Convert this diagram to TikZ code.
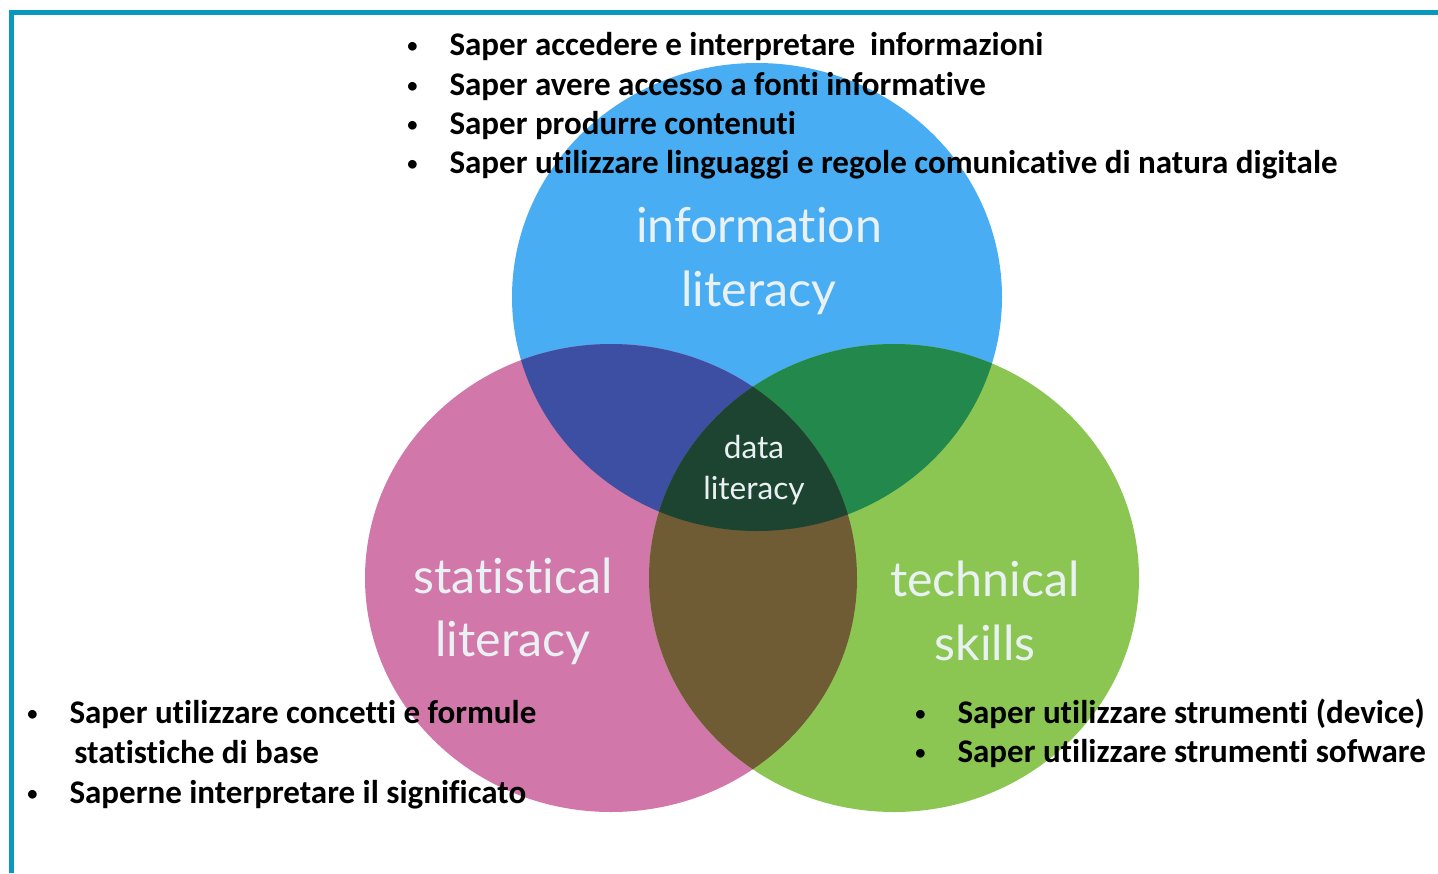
\documentclass[tikz,border=0pt]{standalone}
\usepackage{fontspec}
\newfontfamily\listfont[Ligatures=NoCommon]{Carlito}
\newfontfamily\vennfont[Ligatures=NoCommon]{Lato}

\definecolor{framecol}{HTML}{0A98BF}
\definecolor{infoblue}{HTML}{48ADF2}
\definecolor{statpink}{HTML}{D277AA}
\definecolor{techgreen}{HTML}{8BC653}
\definecolor{infostat}{HTML}{3C4FA3}
\definecolor{infotech}{HTML}{23884B}
\definecolor{stattech}{HTML}{6F5C35}
\definecolor{datacol}{HTML}{1D4331}
\definecolor{labelcol}{HTML}{EAF1F3}

% the three sets
\def\infoset{(757,297) ellipse [x radius=245, y radius=234]}
\def\statset{(611,578) ellipse [x radius=246, y radius=234]}
\def\techset{(894,578) ellipse [x radius=245, y radius=234]}
\newcommand\bul{\makebox[24pt][l]{\raisebox{1.6pt}{\scalebox{0.62}{\textbullet}}}}

\begin{document}
\begin{tikzpicture}[x=0.02cm,y=-0.02cm,
    item/.style={anchor=base west,inner sep=0pt,font=\listfont\bfseries\fontsize{18.8}{22}\selectfont},
    set label/.style={text=labelcol,align=center,font=\vennfont\fontsize{27.5}{36}\selectfont},
    core label/.style={text=labelcol,align=center,font=\vennfont\fontsize{18}{23}\selectfont}]
    \useasboundingbox (0,0) rectangle (1438,873);
    \draw[framecol,line width=0.1cm] (11.5,873) -- (11.5,12.5) -- (1438,12.5);

    % circles, then the overlaps on top
    \fill[infoblue] \infoset;
    \fill[statpink] \statset;
    \fill[techgreen] \techset;
    \begin{scope}
        \clip \infoset;
        \fill[infostat] \statset;
        \fill[infotech] \techset;
    \end{scope}
    \begin{scope}
        \clip \statset;
        \fill[stattech] \techset;
        \clip \techset;
        \fill[datacol] \infoset;
    \end{scope}

    \node[set label] (info) at (759,261) {information\\literacy};
    \node[set label] (stat) at (513,611) {statistical\\literacy};
    \node[set label] (tech) at (985,611) {technical\\skills};
    \node[core label] (data) at (754,470) {data\\literacy};

    % what each kind of literacy means
    \node[item] (i1) at (407,55) {\bul Saper accedere e interpretare~ informazioni};
    \node[item] (i2) at (407,95) {\bul Saper avere accesso a fonti informative};
    \node[item] (i3) at (407,134) {\bul Saper produrre contenuti};
    \node[item] (i4) at (407,173) {\bul Saper utilizzare linguaggi e regole comunicative di natura digitale};

    \node[item] (s1) at (27,723) {\bul Saper utilizzare concetti e formule};
    \node[item] (s2) at (74,763) {statistiche di base};
    \node[item] (s3) at (27,803) {\bul Saperne interpretare il significato};

    \node[item] (t1) at (915,723) {\bul Saper utilizzare strumenti (device)};
    \node[item] (t2) at (915,762) {\bul Saper utilizzare strumenti sofware};
\end{tikzpicture}
\end{document}
